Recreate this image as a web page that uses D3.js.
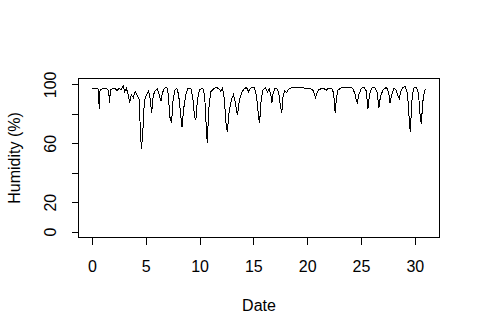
<!DOCTYPE html>
<html lang="en">
<head>
    <meta charset="utf-8">
    <title>Humidity</title>
    <script type="text/javascript" src="https://cdnjs.cloudflare.com/ajax/libs/d3/7.8.5/d3.min.js"></script>
	<style>
	body { margin: 0; background: #fff; }
	text { font-family: "Liberation Sans", Arial, sans-serif; font-size: 16px; fill: #000; }
	</style>
</head>
<body>
    <script type="text/javascript">
      //day of month
      var days = [
        0.00, 0.50, 0.62, 0.68, 0.76, 1.10, 1.40, 1.55, 1.64, 1.72, 1.95, 2.20, 2.35, 2.50, 2.70, 2.90,
        3.05, 3.20, 3.38, 3.52, 3.66, 3.85, 4.02, 4.22, 4.38, 4.50, 4.60, 4.72, 4.88, 5.08, 5.26, 5.42,
        5.55, 5.70, 5.90, 6.10, 6.28, 6.42, 6.56, 6.76, 6.96, 7.10, 7.24, 7.40, 7.54, 7.70, 7.88, 8.06,
        8.24, 8.38, 8.52, 8.72, 8.92, 9.18, 9.36, 9.54, 9.66, 9.80, 10.00, 10.30, 10.48, 10.62, 10.72, 10.86,
        11.04, 11.32, 11.58, 11.78, 11.96, 12.14, 12.30, 12.46, 12.58, 12.76, 12.96, 13.16, 13.34, 13.52, 13.70, 13.90,
        14.10, 14.36, 14.56, 14.74, 14.94, 15.12, 15.30, 15.48, 15.58, 15.72, 15.88, 16.12, 16.32, 16.48, 16.62, 16.72,
        16.84, 17.00, 17.18, 17.36, 17.52, 17.64, 17.76, 17.92, 18.08, 18.26, 18.46, 18.84, 19.30, 19.76, 20.20, 20.50,
        20.66, 20.78, 20.92, 21.10, 21.50, 21.78, 21.98, 22.28, 22.46, 22.60, 22.72, 22.86, 23.10, 23.55, 23.94, 24.22,
        24.42, 24.56, 24.66, 24.80, 25.04, 25.30, 25.50, 25.64, 25.78, 25.98, 26.26, 26.50, 26.66, 26.80, 27.06, 27.36,
        27.56, 27.70, 27.86, 28.06, 28.26, 28.44, 28.56, 28.70, 28.92, 29.12, 29.32, 29.48, 29.58, 29.72, 29.88, 30.14,
        30.34, 30.50, 30.60, 30.74, 30.90, 31.05
      ];

      //humidity in percent
      var humidity = [
        97.5, 97.5, 96, 83.5, 96, 97.5, 97, 96, 87.5, 96, 97.5, 97, 95.5, 97.5, 96.5, 99,
        95, 97.5, 93, 87.5, 93, 91, 95, 92.5, 90, 70, 56, 66, 89, 93, 95.5, 90,
        80.5, 92.5, 96, 97, 92, 88.5, 94.5, 97.5, 98, 93, 78, 74, 89, 96, 97.5, 93,
        80, 71, 83, 93, 97, 97.5, 92, 78, 76, 89, 96.5, 97.5, 92, 72, 60, 83,
        95, 97, 98, 97, 95.5, 97.5, 90, 74, 67.5, 82, 89.5, 93, 87, 79, 89, 94,
        96.5, 98, 95, 97.5, 98, 97.5, 92, 78, 74, 89, 96, 97.5, 95, 97, 93, 87.5,
        94, 97, 97.5, 94, 85, 80.5, 92, 95.5, 94.5, 96.5, 97.5, 98, 98, 97.5, 97.5, 96.5,
        94, 91, 94.5, 96.5, 97.5, 96, 97.5, 97.5, 94, 80.5, 91, 96, 97.5, 98, 98, 97.5,
        94, 89, 87.5, 93, 97.5, 98, 95.5, 83, 92.5, 97.5, 98, 94.5, 84, 91.5, 96.5, 98,
        95, 87.5, 93, 97.5, 96, 92, 90.5, 95.5, 98, 98.5, 94, 76, 67.5, 88, 97.5, 98,
        94, 78, 73, 88, 96, 97
      ];

      //axis ticks
      var xTicks = [0, 5, 10, 15, 20, 25, 30];
      var yTicks = [0, 20, 40, 60, 80, 100];
      var yLabels = [0, 20, 60, 100];

      var data = days.map(function(d, i) { return {day: d, hum: humidity[i]}; });

      var width = 480, height = 335;
      var box = {left: 78.5, right: 439.5, top: 78.5, bottom: 237.5};

      var svg = d3.select("body").append("svg")
      .attr("width", width)
      .attr("height", height);

      //R style 4% padding on x
      var ext = d3.extent(days);
      var pad = (ext[1] - ext[0]) * 0.04;
      var x = d3.scaleLinear()
      .domain([ext[0] - pad, ext[1] + pad])
      .range([box.left, box.right]);

      var y = d3.scaleLinear()
      .domain([-4, 104])
      .range([box.bottom, box.top]);

      var line = d3.line()
      .x(function(d) { return x(d.day); })
      .y(function(d) { return y(d.hum); });

      //no antialiasing, like the R png device
      svg.append("path")
      .datum(data)
      .attr("fill", "none")
      .attr("stroke", "#000")
      .attr("stroke-width", 1)
      .attr("shape-rendering", "crispEdges")
      .attr("d", line);

      //bottom axis
      var gx = svg.append("g")
      .attr("transform", "translate(0," + box.bottom + ")")
      .call(d3.axisBottom(x).tickValues(xTicks).tickSize(7).tickPadding(16).tickSizeOuter(0));
      gx.select(".domain").remove();
      gx.selectAll("text").attr("font-size", null).attr("font-family", null);

      //left axis, rotated labels like R
      var gy = svg.append("g")
      .attr("transform", "translate(" + box.left + ",0)")
      .call(d3.axisLeft(y).tickValues(yTicks).tickSize(7).tickSizeOuter(0)
        .tickFormat(function(d) { return yLabels.indexOf(d) >= 0 ? d : ""; }));
      gy.select(".domain").remove();
      gy.selectAll("text")
      .attr("font-size", null).attr("font-family", null)
      .attr("x", null).attr("dy", null)
      .attr("text-anchor", "middle")
      .attr("transform", "translate(-23,0) rotate(-90)");

      svg.selectAll(".tick line").attr("stroke", "#000").attr("shape-rendering", "crispEdges");

      //box
      svg.append("rect")
      .attr("x", box.left)
      .attr("y", box.top)
      .attr("width", box.right - box.left)
      .attr("height", box.bottom - box.top)
      .attr("fill", "none")
      .attr("stroke", "#000")
      .attr("shape-rendering", "crispEdges");

      svg.append("text")
      .attr("x", (box.left + box.right) / 2)
      .attr("y", 311)
      .attr("text-anchor", "middle")
      .text("Date");

      svg.append("text")
      .attr("transform", "translate(20," + (box.top + box.bottom) / 2 + ") rotate(-90)")
      .attr("text-anchor", "middle")
      .text("Humidity (%)");
    </script>
</body>
</html>
